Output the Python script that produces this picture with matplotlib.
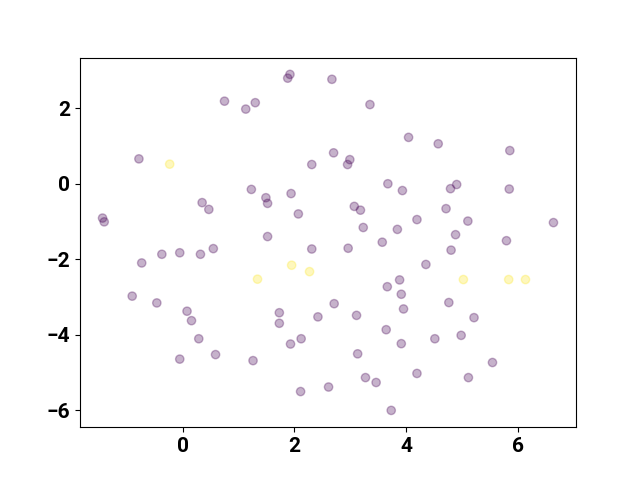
import matplotlib
matplotlib.use("Agg")
import matplotlib.pyplot as plt
import numpy as np

# point coordinates
x_vals = [
    0.75, 1.13, -0.78, 1.92, 1.88, 2.67, 1.30, 3.35, 4.04, 2.70,
    2.99, 2.95, 2.31, 3.67, 4.57, 5.85, 4.90, 4.79, 5.84, 1.23,
    0.35, 0.47, -1.43, -1.40, -0.73, -0.37, -0.05, 0.32, 0.55, -0.90,
    -0.46, 0.08, 1.49, 1.52, 1.94, 2.07, 1.52, 2.31, 3.07, 3.18,
    3.23, 2.96, 3.57, 3.84, 3.93, 3.88, 3.66, 3.91, 2.71, 1.73,
    3.95, 4.71, 4.19, 5.10, 6.63, 4.88, 5.79, 4.80, 4.35, 4.76,
    0.16, 0.29, -0.05, 0.59, 1.26, 1.73, 2.42, 3.11, 2.12, 1.93,
    3.64, 3.91, 3.13, 3.27, 3.46, 2.11, 2.61, 3.73, 5.21, 4.98,
    4.51, 5.54, 4.19, 5.11,
    -0.23, 1.95, 2.27, 1.34, 5.02, 5.83, 6.13,
]
y_vals = [
    2.19, 1.98, 0.66, 2.90, 2.80, 2.77, 2.15, 2.10, 1.23, 0.82,
    0.64, 0.51, 0.51, 0.00, 1.06, 0.88, -0.02, -0.13, -0.14, -0.15,
    -0.50, -0.68, -0.91, -1.01, -2.10, -1.87, -1.83, -1.87, -1.72, -2.98,
    -3.16, -3.38, -0.37, -0.52, -0.26, -0.80, -1.40, -1.73, -0.60, -0.70,
    -1.16, -1.71, -1.55, -1.21, -0.18, -2.55, -2.73, -2.93, -3.18, -3.42,
    -3.32, -0.66, -0.95, -0.99, -1.03, -1.35, -1.51, -1.76, -2.14, -3.15,
    -3.63, -4.11, -4.65, -4.53, -4.69, -3.70, -3.53, -3.49, -4.11, -4.25,
    -3.87, -4.24, -4.51, -5.14, -5.27, -5.51, -5.39, -6.01, -3.55, -4.02,
    -4.11, -4.74, -5.03, -5.14,
    0.52, -2.16, -2.33, -2.53, -2.54, -2.54, -2.54,
]
labels = [0] * 84 + [1] * 7

plt.rcParams["font.family"] = ["Roboto", "DejaVu Sans"]
plt.rcParams["font.weight"] = "bold"
plt.rcParams["font.size"] = 15

fig, ax = plt.subplots(figsize=(6.4, 4.8), dpi=100)
ax.scatter(x_vals, y_vals, c=labels, cmap="viridis", alpha=0.3)
for lab in ax.get_xticklabels() + ax.get_yticklabels():
    lab.set_fontweight("bold")

fig.savefig("out.png")
